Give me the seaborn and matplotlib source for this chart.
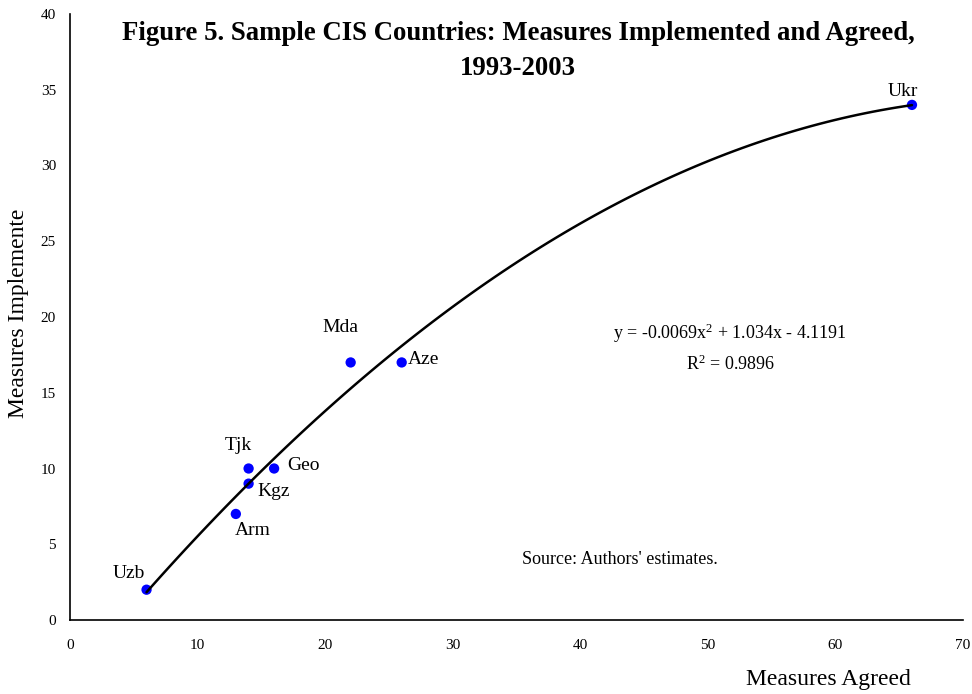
import matplotlib
matplotlib.use("Agg")
import matplotlib.pyplot as plt
import seaborn as sns
import pandas as pd

countries = ["Uzb", "Arm", "Kgz", "Tjk", "Geo", "Mda", "Aze", "Ukr"]
agreed = [6, 13, 14, 14, 16, 22, 26, 66]
implemented = [2, 7, 9, 10, 10, 17, 17, 34]

# label anchor positions (data coords) and alignment
label_pos = {
    "Uzb": (4.6, 3.1, "center"),
    "Arm": (14.35, 5.9, "center"),
    "Kgz": (14.7, 8.45, "left"),
    "Tjk": (13.2, 11.5, "center"),
    "Geo": (17.0, 10.2, "left"),
    "Mda": (21.2, 19.3, "center"),
    "Aze": (26.5, 17.2, "left"),
    "Ukr": (65.3, 34.9, "center"),
}

df = pd.DataFrame({"country": countries, "agreed": agreed, "implemented": implemented})

sns.set_style("white")
plt.rcParams["font.family"] = ["Liberation Serif", "DejaVu Serif"]
plt.rcParams["text.color"] = "black"
plt.rcParams["axes.labelcolor"] = "black"
plt.rcParams["mathtext.fontset"] = "custom"
plt.rcParams["mathtext.rm"] = "Liberation Serif"
plt.rcParams["mathtext.it"] = "Liberation Serif:italic"

fig = plt.figure(figsize=(9.72, 6.94), dpi=100)
ax = fig.add_axes([70 / 972, 74 / 694, 893 / 972, 606 / 694])

sns.scatterplot(data=df, x="agreed", y="implemented", ax=ax, color="#0000ff",
                s=55, edgecolor="none", zorder=2)
sns.regplot(data=df, x="agreed", y="implemented", ax=ax, order=2, ci=None,
            scatter=False, truncate=True, line_kws=dict(color="black", lw=1.8, zorder=3))

for c in countries:
    x, y, ha = label_pos[c]
    ax.text(x, y, c, ha=ha, va="center", fontsize=14, color="black")

ax.text(51.7, 18.9, r"y = -0.0069x$^\mathrm{2}$ + 1.034x - 4.1191", ha="center", va="center",
        fontsize=13, color="black")
ax.text(51.8, 16.9, r"R$^\mathrm{2}$ = 0.9896", ha="center", va="center", fontsize=13, color="black")
ax.text(43.1, 4.0, "Source: Authors' estimates.", ha="center", va="center", fontsize=13, color="black")

ax.set_xlim(0, 70)
ax.set_ylim(0, 40)
ax.set_xticks(range(0, 71, 10))
ax.set_yticks(range(0, 41, 5))
ax.tick_params(direction="in", length=4, width=1, labelsize=11, colors="black")
ax.tick_params(axis="y", pad=10)
ax.tick_params(axis="x", pad=14)
for s in ["top", "right"]:
    ax.spines[s].set_visible(False)
for s in ["left", "bottom"]:
    ax.spines[s].set_color("black")
    ax.spines[s].set_linewidth(1.2)
ax.set_xlabel("")
ax.set_ylabel("")

fig.text(828 / 972, 1 - 679 / 694, "Measures Agreed", ha="center", va="center", fontsize=17)
fig.text(19 / 972, 1 - 313 / 694, "Measures Implemente", ha="center", va="center",
         rotation=90, fontsize=17)
fig.text(518 / 972, 1 - 51 / 694, "Figure 5. Sample CIS Countries: Measures Implemented and Agreed,\n1993-2003",
         ha="center", va="center", fontsize=19.3, fontweight="bold", linespacing=1.55)

fig.savefig("out.png", dpi=100)
